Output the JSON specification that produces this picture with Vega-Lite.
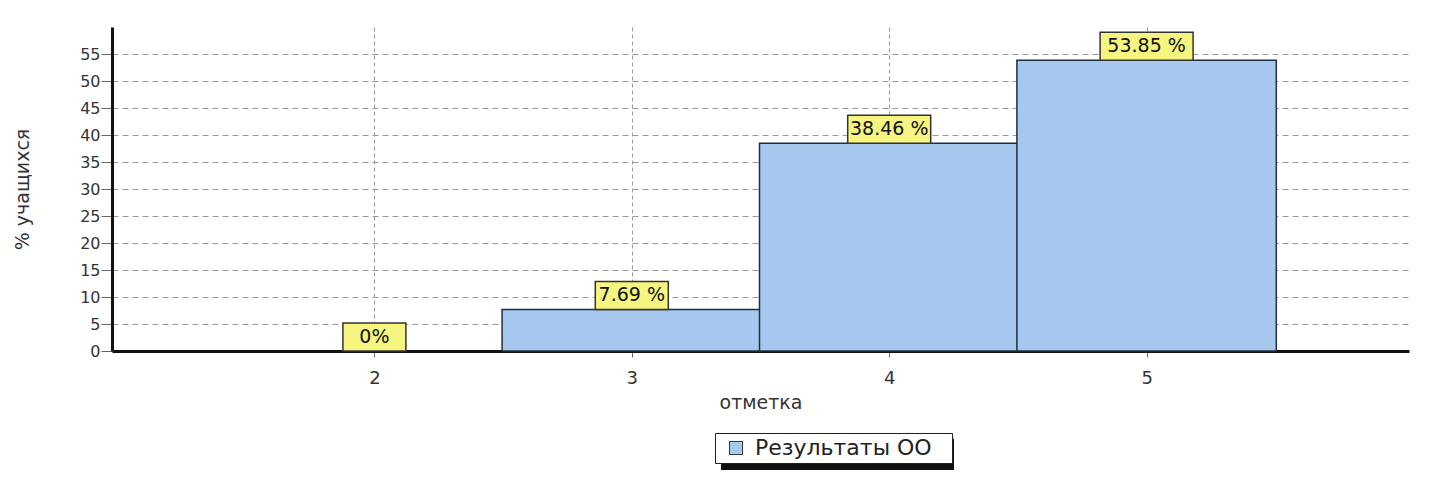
{
  "$schema": "https://vega.github.io/schema/vega-lite/v6.json",
  "width": 1297,
  "height": 324,
  "autosize": "none",
  "padding": {"left": 112, "top": 27, "right": 26, "bottom": 135},
  "background": "white",
  "config": {"view": {"stroke": null}, "font": "DejaVu Sans"},
  "data": {
    "values": [
      {"grade": 2, "pct": 0, "label": "0%"},
      {"grade": 3, "pct": 7.69, "label": "7.69 %"},
      {"grade": 4, "pct": 38.46, "label": "38.46 %"},
      {"grade": 5, "pct": 53.85, "label": "53.85 %"}
    ]
  },
  "encoding": {
    "x": {
      "field": "grade",
      "type": "quantitative",
      "scale": {"domain": [1, 6], "nice": false, "zero": false},
      "axis": {
        "values": [2, 3, 4, 5],
        "grid": true,
        "gridDash": [4, 3],
        "gridColor": "#9a9a9a",
        "domainColor": "#111111",
        "domainWidth": 3,
        "tickColor": "#666666",
        "tickSize": 6,
        "labelFontSize": 18,
        "labelColor": "#333333",
        "labelBaseline": "alphabetic",
        "labelPadding": 26,
        "title": "отметка",
        "titleFontSize": 19,
        "titleFontWeight": "normal",
        "titleColor": "#333333",
        "titleY": 57,
        "titleBaseline": "alphabetic"
      }
    },
    "y": {
      "field": "pct",
      "type": "quantitative",
      "scale": {"domain": [0, 60], "nice": false},
      "axis": {
        "values": [0, 5, 10, 15, 20, 25, 30, 35, 40, 45, 50, 55],
        "grid": true,
        "gridDash": [6, 4],
        "gridColor": "#9a9a9a",
        "domainColor": "#111111",
        "domainWidth": 3,
        "tickColor": "#666666",
        "tickSize": 11,
        "labelFontSize": 16,
        "labelPadding": 1,
        "labelColor": "#333333",
        "title": "% учащихся",
        "titleFontSize": 19,
        "titleFontWeight": "normal",
        "titleColor": "#333333",
        "titleX": -90,
        "titleY": 162,
        "titleAngle": -90,
        "titleAlign": "center",
        "titleBaseline": "middle"
      }
    }
  },
  "layer": [
    {
      "transform": [{"filter": "datum.pct > 0"}],
      "mark": {"type": "bar", "width": {"expr": "width/5"}, "stroke": "#1f2f3f", "strokeWidth": 1.5},
      "encoding": {
        "fill": {
          "datum": "Результаты ОО",
          "type": "nominal",
          "scale": {"range": ["#a6c8ef"]},
          "legend": {
            "orient": "none",
            "legendX": 603,
            "legendY": 406,
            "title": null,
            "labelLimit": 400,
            "labelExpr": "datum.label + '\u2800'",
            "fillColor": "white",
            "strokeColor": "#222222",
            "padding": 4,
            "symbolType": "square",
            "symbolSize": 170,
            "symbolOffset": 6,
            "symbolStrokeColor": "#333333",
            "symbolStrokeWidth": 1,
            "labelFontSize": 22,
            "labelFont": "DejaVu Sans",
            "labelColor": "#222222",
            "labelOffset": 8,
            "zindex": 3
          }
        }
      }
    },
    {
      "mark": {"type": "bar", "fill": "#f5f57f", "stroke": "#333333", "strokeWidth": 1.5, "yOffset": -28},
      "encoding": {
        "y2": {"field": "pct"},
        "size": {
          "field": "label",
          "type": "ordinal",
          "scale": {"domain": ["0%", "7.69 %", "38.46 %", "53.85 %"], "range": [63, 93, 108, 107]},
          "legend": null
        }
      }
    },
    {
      "mark": {"type": "text", "yOffset": -14, "baseline": "middle", "fontSize": 19, "font": "DejaVu Sans", "color": "#111111"},
      "encoding": {
        "text": {"field": "label"},
        "opacity": {
          "datum": "shadow",
          "type": "nominal",
          "scale": {"range": [1]},
          "legend": {
            "orient": "none",
            "legendX": 609,
            "legendY": 311,
            "title": null,
            "labelExpr": "''",
            "padding": 0,
            "symbolType": "M-1,-0.133H1V0.133H-1Z",
            "symbolSize": 54289,
            "symbolStrokeWidth": 0,
            "zindex": 1
          }
        }
      }
    },
    {
      "data": {"values": [{}]},
      "mark": {"type": "rule", "color": "#111111", "strokeWidth": 2},
      "encoding": {
        "x": {"datum": 2.411},
        "x2": {"datum": 5.85},
        "y": {"datum": 64.8}
      }
    }
  ]
}
